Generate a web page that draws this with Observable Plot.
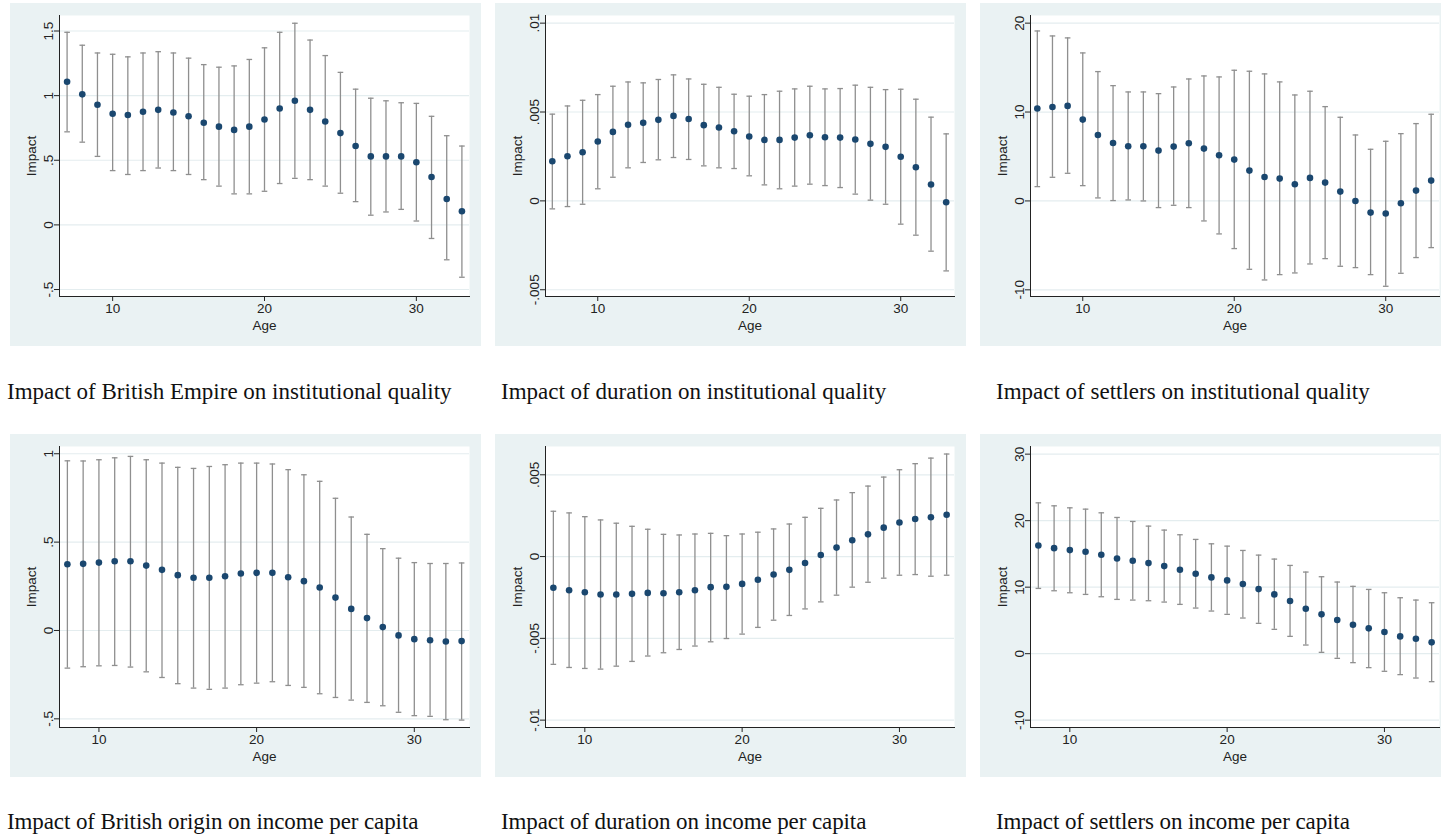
<!DOCTYPE html>
<html>
<head>
<meta charset="utf-8">
<script src="https://cdn.jsdelivr.net/npm/d3@7"></script>
<script src="https://cdn.jsdelivr.net/npm/@observablehq/plot@0.6"></script>
<style>
  html, body { margin: 0; padding: 0; background: #ffffff; }
  #root { position: relative; width: 1445px; height: 835px; overflow: hidden; }
  .panel { position: absolute; }
  .caption { position: absolute; font-family: "Liberation Serif", "Times New Roman", serif; font-size: 23px; line-height: 23px; color: #111; white-space: nowrap; }
</style>
</head>
<body>
<div id="root"></div>
<script>
// ---------- data ----------
const ages7 = [7,8,9,10,11,12,13,14,15,16,17,18,19,20,21,22,23,24,25,26,27,28,29,30,31,32,33];
const ages8 = [8,9,10,11,12,13,14,15,16,17,18,19,20,21,22,23,24,25,26,27,28,29,30,31,32,33];
const xTicks = [10,20,30];

// Panel 1: Impact of British Empire on institutional quality
const est1 = [1.107,1.01,0.93,0.86,0.85,0.875,0.89,0.87,0.84,0.79,0.76,0.735,0.76,0.815,0.90,0.96,0.89,0.80,0.71,0.61,0.53,0.53,0.53,0.485,0.37,0.20,0.105];
const hi1  = [1.49,1.39,1.33,1.32,1.30,1.33,1.34,1.33,1.29,1.24,1.22,1.23,1.28,1.37,1.49,1.56,1.43,1.31,1.18,1.05,0.98,0.96,0.945,0.94,0.84,0.69,0.61];
const lo1  = [0.72,0.64,0.53,0.42,0.39,0.42,0.44,0.42,0.39,0.35,0.30,0.24,0.24,0.26,0.32,0.36,0.35,0.30,0.245,0.18,0.075,0.10,0.12,0.03,-0.105,-0.27,-0.405];
const yTicks1 = [-0.5,0,0.5,1,1.5];
const yLabels1 = ["-.5","0",".5","1","1.5"];

// Panel 2: Impact of duration on institutional quality
const est2 = [0.00223,0.00251,0.00274,0.00334,0.00388,0.00428,0.00439,0.00456,0.00478,0.00461,0.00426,0.00413,0.00392,0.00362,0.00343,0.00343,0.00356,0.00369,0.00358,0.00356,0.00345,0.00321,0.00304,0.00248,0.00189,0.00092,-0.00008];
const hi2  = [0.00488,0.00534,0.00566,0.00598,0.00645,0.00669,0.00664,0.00683,0.00709,0.00686,0.00656,0.00639,0.006,0.00589,0.00598,0.00617,0.0063,0.00645,0.0063,0.00632,0.00651,0.00639,0.00626,0.00628,0.00572,0.00471,0.00377];
const lo2  = [-0.00045,-0.00032,-0.00019,0.00068,0.00133,0.00186,0.00216,0.00231,0.00244,0.00233,0.00197,0.00186,0.00182,0.00141,0.0009,0.00068,0.00083,0.00094,0.00086,0.00075,0.00038,0.00004,-0.00019,-0.00131,-0.00193,-0.00283,-0.00394];
const yTicks2 = [-0.005,0,0.005,0.01];
const yLabels2 = ["-.005","0",".005",".01"];

// Panel 3: Impact of settlers on institutional quality
const est3 = [10.39,10.57,10.69,9.15,7.42,6.52,6.15,6.15,5.66,6.11,6.49,5.89,5.14,4.65,3.41,2.70,2.51,1.87,2.59,2.06,1.05,0,-1.31,-1.42,-0.26,1.16,2.29];
const hi3  = [19.12,18.56,18.34,16.65,14.55,12.97,12.26,12.26,12.07,12.82,13.72,14.06,13.95,14.7,14.59,14.29,13.39,11.92,12.34,10.61,9.41,7.42,5.81,6.71,7.57,8.7,9.75];
const lo3  = [1.61,2.66,3.11,1.72,0.34,0.04,0.11,0,-0.75,-0.49,-0.75,-2.25,-3.71,-5.36,-7.69,-8.89,-8.29,-8.1,-7.09,-6.49,-7.35,-7.5,-8.29,-9.6,-8.14,-6.37,-5.25];
const yTicks3 = [-10,0,10,20];
const yLabels3 = ["-10","0","10","20"];

// Panel 4: Impact of British origin on income per capita
const est4 = [0.375,0.377,0.384,0.392,0.392,0.367,0.343,0.313,0.298,0.298,0.307,0.322,0.326,0.326,0.301,0.279,0.243,0.186,0.122,0.07,0.019,-0.028,-0.049,-0.055,-0.062,-0.06];
const hi4  = [0.96,0.959,0.966,0.977,0.985,0.966,0.947,0.923,0.917,0.928,0.938,0.947,0.947,0.942,0.91,0.881,0.844,0.748,0.642,0.544,0.463,0.409,0.384,0.379,0.379,0.382];
const lo4  = [-0.213,-0.205,-0.2,-0.198,-0.207,-0.234,-0.266,-0.301,-0.326,-0.333,-0.326,-0.307,-0.298,-0.29,-0.311,-0.322,-0.358,-0.379,-0.394,-0.407,-0.426,-0.463,-0.482,-0.486,-0.505,-0.507];
const yTicks4 = [-0.5,0,0.5,1];
const yLabels4 = ["-.5","0",".5","1"];

// Panel 5: Impact of duration on income per capita
const est5 = [-0.00191,-0.00206,-0.00218,-0.00232,-0.00232,-0.00228,-0.00222,-0.00224,-0.00218,-0.00206,-0.00187,-0.00185,-0.00167,-0.00142,-0.0011,-0.00081,-0.00039,0.0001,0.00055,0.001,0.00136,0.00177,0.00208,0.0023,0.0024,0.00256];
const hi5  = [0.00277,0.00267,0.00244,0.00224,0.00204,0.00185,0.00167,0.00136,0.00132,0.00138,0.00142,0.00128,0.00138,0.00149,0.00169,0.00199,0.0024,0.00295,0.00346,0.00391,0.00431,0.00486,0.00531,0.00568,0.00602,0.00627];
const lo5  = [-0.00659,-0.00678,-0.00684,-0.00688,-0.0067,-0.00641,-0.00608,-0.00588,-0.00568,-0.00547,-0.00521,-0.00501,-0.00474,-0.00433,-0.00389,-0.0036,-0.0032,-0.00277,-0.00236,-0.00187,-0.00157,-0.00132,-0.00114,-0.0011,-0.0012,-0.00114];
const yTicks5 = [-0.01,-0.005,0,0.005];
const yLabels5 = ["-.01","-.005","0",".005"];

// Panel 6: Impact of settlers on income per capita
const est6 = [16.27,15.87,15.57,15.32,14.87,14.32,13.97,13.62,13.17,12.62,12.02,11.47,11.02,10.47,9.71,8.91,7.91,6.76,5.91,5.06,4.36,3.81,3.25,2.6,2.25,1.7];
const hi6  = [22.68,22.23,21.93,21.73,21.18,20.48,19.88,19.18,18.58,17.88,17.18,16.52,16.17,15.52,14.82,14.22,13.27,12.27,11.57,10.77,10.12,9.66,9.16,8.41,8.06,7.66];
const lo6  = [9.81,9.46,9.16,8.91,8.56,8.16,8.06,7.96,7.76,7.41,6.86,6.41,5.91,5.36,4.56,3.66,2.6,1.3,0.2,-0.7,-1.35,-2.1,-2.65,-3.15,-3.66,-4.21];
const yTicks6 = [-10,0,10,20,30];
const yLabels6 = ["-10","0","10","20","30"];

const captions = [
  "Impact of British Empire on institutional quality",
  "Impact of duration on institutional quality",
  "Impact of settlers on institutional quality",
  "Impact of British origin on income per capita",
  "Impact of duration on income per capita",
  "Impact of settlers on income per capita"
];

// ---------- drawing ----------
const root = document.getElementById("root");
const BG = "#eaf2f3", NAVY = "#1a476f", CI = "#8f8f8f", GRID = "#e4edef";

const cap = { draw(ctx) { ctx.moveTo(-2.8, 0); ctx.lineTo(2.8, 0); } };

function panel(cfg) {
  const data = cfg.ages.map((a, i) => ({age: a, est: cfg.est[i], lo: cfg.lo[i], hi: cfg.hi[i]}));
  const fmt = d => { const k = cfg.yTicks.findIndex(t => Math.abs(t - d) < 1e-12); return k >= 0 ? cfg.yLabels[k] : ""; };
  const chart = Plot.plot({
    width: cfg.width,
    height: 343,
    marginLeft: cfg.ml, marginRight: cfg.mr, marginTop: 12, marginBottom: 50,
    style: { background: BG, fontFamily: "'Liberation Sans', Arial, sans-serif", fontSize: "13.5px", color: "#222", overflow: "visible" },
    x: { domain: cfg.xDomain, label: null },
    y: { domain: cfg.yDomain, label: null },
    marks: [
      Plot.frame({ fill: "white", stroke: null }),
      Plot.gridY(cfg.yTicks, { stroke: GRID, strokeOpacity: 1, strokeWidth: 1.2 }),
      Plot.ruleX(data, { x: "age", y1: "lo", y2: "hi", stroke: CI, strokeWidth: 1.3 }),
      Plot.dot(data, { x: "age", y: "lo", symbol: cap, r: 3, fill: "none", stroke: CI, strokeWidth: 1.3 }),
      Plot.dot(data, { x: "age", y: "hi", symbol: cap, r: 3, fill: "none", stroke: CI, strokeWidth: 1.3 }),
      Plot.dot(data, { x: "age", y: "est", r: 3.3, fill: NAVY, stroke: null }),
      Plot.axisX(xTicks, { tickSize: 5, tickPadding: 2, label: "Age", labelAnchor: "center", labelArrow: "none", labelOffset: 33, stroke: "#222" }),
      Plot.axisY(cfg.yTicks, { tickFormat: fmt, tickRotate: -90, tickSize: 5, tickPadding: 2, label: "Impact", labelAnchor: "center", labelArrow: "none", labelOffset: 33, stroke: "#222" }),
      Plot.frame({ anchor: "left", stroke: "#222" }),
      Plot.frame({ anchor: "bottom", stroke: "#222" })
    ]
  });
  chart.classList.add("panel");
  chart.style.left = cfg.left + "px";
  chart.style.top = cfg.top + "px";
  chart.style.position = "absolute";
  root.appendChild(chart);

  const c = document.createElement("div");
  c.className = "caption";
  c.textContent = cfg.caption;
  c.style.left = cfg.capLeft + "px";
  c.style.top = cfg.capTop + "px";
  if (cfg.spacing) c.style.letterSpacing = cfg.spacing;
  root.appendChild(c);
}

const cfgs = [
  { ages: ages7, est: est1, lo: lo1, hi: hi1, yTicks: yTicks1, yLabels: yLabels1, xDomain: [6.5, 33.5], yDomain: [-0.554, 1.62], left: 10, top: 3, width: 471, ml: 49, mr: 12, caption: captions[0], capLeft: 7, capTop: 380 },
  { ages: ages7, est: est2, lo: lo2, hi: hi2, yTicks: yTicks2, yLabels: yLabels2, xDomain: [6.55, 33.55], yDomain: [-0.00538, 0.01043], left: 495, top: 3, width: 471, ml: 50, mr: 12, caption: captions[1], capLeft: 501, capTop: 380 },
  { ages: ages7, est: est3, lo: lo3, hi: hi3, yTicks: yTicks3, yLabels: yLabels3, xDomain: [6.55, 33.55], yDomain: [-10.75, 20.86], left: 980, top: 3, width: 461, ml: 50, mr: 2, caption: captions[2], capLeft: 996, capTop: 380 },
  { ages: ages8, est: est4, lo: lo4, hi: hi4, yTicks: yTicks4, yLabels: yLabels4, xDomain: [7.5, 33.5], yDomain: [-0.549, 1.041], left: 10, top: 434, width: 471, ml: 49, mr: 12, caption: captions[3], capLeft: 7, capTop: 810, spacing: "-0.1px" },
  { ages: ages8, est: est5, lo: lo5, hi: hi5, yTicks: yTicks5, yLabels: yLabels5, xDomain: [7.5, 33.5], yDomain: [-0.01045, 0.00673], left: 495, top: 434, width: 471, ml: 50, mr: 12, caption: captions[4], capLeft: 501, capTop: 810, spacing: "-0.1px" },
  { ages: ages8, est: est6, lo: lo6, hi: hi6, yTicks: yTicks6, yLabels: yLabels6, xDomain: [7.5, 33.5], yDomain: [-11.1, 31.15], left: 980, top: 434, width: 461, ml: 50, mr: 2, caption: captions[5], capLeft: 996, capTop: 810, spacing: "-0.1px" }
];
cfgs.forEach(panel);
</script>
</body>
</html>
